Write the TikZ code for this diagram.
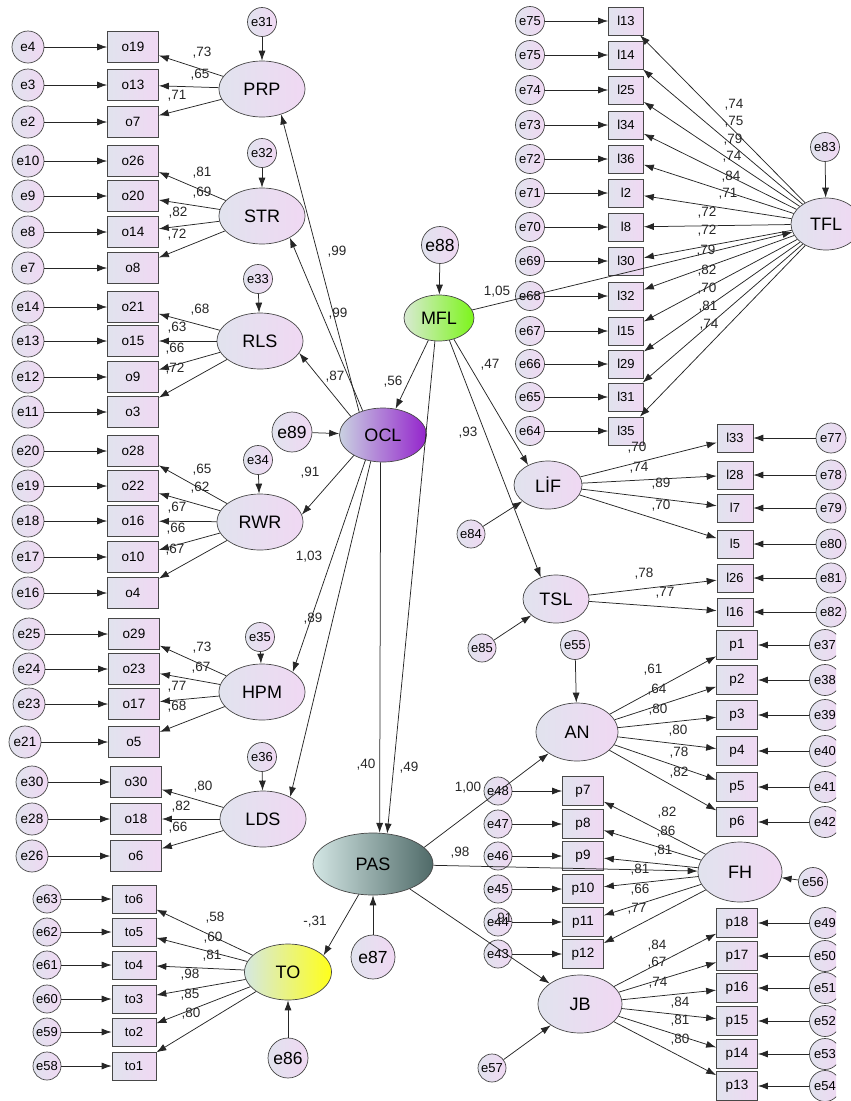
\documentclass[tikz,border=0pt]{standalone}
\usepackage{fontspec}
\setmainfont{Liberation Sans}
\usetikzlibrary{arrows.meta,shapes.geometric}
\definecolor{pl}{HTML}{E1E3EE}
\definecolor{pr}{HTML}{F0D8F3}
\definecolor{ln}{HTML}{262626}
\definecolor{oclL}{HTML}{C9D1E1}
\definecolor{oclR}{HTML}{9424CC}
\definecolor{mflL}{HTML}{D8EAD2}
\definecolor{mflR}{HTML}{7CF51A}
\definecolor{pasL}{HTML}{D3E6E4}
\definecolor{pasR}{HTML}{4F6A68}
\definecolor{toL}{HTML}{D5E8E2}
\definecolor{toR}{HTML}{FFFF1A}
\tikzset{
 base/.style={draw=ln!85, line width=0.7pt, left color=pl, right color=pr, inner sep=0pt},
 obs/.style={base, rectangle, minimum width=51pt, minimum height=31pt, font=\fontsize{13.5}{14}\selectfont},
 tobs/.style={base, rectangle, minimum width=44pt, minimum height=28pt, font=\fontsize{13}{14}\selectfont},
 lobs/.style={base, rectangle, minimum width=35pt, minimum height=28pt, font=\fontsize{13}{14}\selectfont},
 pobs/.style={base, rectangle, minimum width=41pt, minimum height=29pt, font=\fontsize{13.5}{14}\selectfont},
 err/.style={base, circle, minimum size=32pt, font=\fontsize{13.5}{14}\selectfont},
 serr/.style={base, circle, minimum size=29pt, font=\fontsize{13}{14}\selectfont},
 berr/.style={base, circle, minimum size=40pt, font=\fontsize{17.5}{18}\selectfont},
 lat/.style={base, ellipse, minimum width=86pt, minimum height=56pt, font=\fontsize{18}{20}\selectfont},
 lbl/.style={inner sep=0pt, font=\fontsize{13.5}{14}\selectfont, text=black!85},
 arr/.style={draw=ln, line width=0.75pt, -{Latex[length=10pt,width=7pt]}},
}
\begin{document}
\begin{tikzpicture}[x=1pt,y=-1pt]
\useasboundingbox (0,0) rectangle (851,1101);

% ---------- latent variables ----------
\node[lat] (PRP) at (262,89) {PRP};
\node[lat] (STR) at (262,216) {STR};
\node[lat] (RLS) at (260,341) {RLS};
\node[lat] (RWR) at (260,522) {RWR};
\node[lat] (HPM) at (262,692) {HPM};
\node[lat] (LDS) at (263,819) {LDS};
\node[lat, left color=oclL, right color=oclR, minimum width=87pt, minimum height=54pt] (OCL) at (383,435) {OCL};
\node[lat, left color=mflL, right color=mflR, minimum width=70pt, minimum height=46pt] (MFL) at (439,318) {MFL};
\node[lat, left color=pasL, right color=pasR, minimum width=120pt, minimum height=62pt] (PAS) at (373,864) {PAS};
\node[lat, left color=toL, right color=toR, minimum width=87pt, minimum height=56pt] (TO) at (288,972) {TO};
\node[lat, minimum width=70pt, minimum height=52pt] (TFL) at (826,224) {TFL};
\node[lat, minimum width=68pt, minimum height=48pt] (LIF) at (548,485) {LİF};
\node[lat, minimum width=66pt, minimum height=48pt] (TSL) at (556,599) {TSL};
\node[lat, minimum width=82pt, minimum height=58pt] (AN) at (577,732) {AN};
\node[lat, minimum width=84pt, minimum height=60pt] (FH) at (740,872) {FH};
\node[lat, minimum width=84pt, minimum height=58pt] (JB) at (580,1004) {JB};

% ---------- disturbance terms ----------
\node[serr] (e31) at (262,22) {e31};
\node[serr] (e32) at (262,153) {e32};
\node[serr] (e33) at (258,279) {e33};
\node[serr] (e34) at (258,460) {e34};
\node[serr] (e35) at (260,637) {e35};
\node[serr] (e36) at (262,757) {e36};
\node[berr] (e89) at (292,432) {e89};
\node[berr, minimum size=37pt] (e88) at (440,245) {e88};
\node[berr, minimum size=44pt] (e87) at (373,957) {e87};
\node[berr] (e86) at (288,1058) {e86};
\node[serr] (e83) at (825,147) {e83};
\node[serr, minimum size=28pt] (e84) at (471,534) {e84};
\node[serr, minimum size=28pt] (e85) at (482,648) {e85};
\node[serr] (e55) at (575,645) {e55};
\node[serr] (e56) at (813,882) {e56};
\node[serr, minimum size=28pt] (e57) at (492,1068) {e57};

\draw[arr] (e31) -- (PRP);
\draw[arr] (e32) -- (STR);
\draw[arr] (e33) -- (RLS);
\draw[arr] (e34) -- (RWR);
\draw[arr] (e35) -- (HPM);
\draw[arr] (e36) -- (LDS);
\draw[arr] (e89) -- (OCL);
\draw[arr] (e88) -- (MFL);
\draw[arr] (e87) -- (PAS);
\draw[arr] (e86) -- (TO);
\draw[arr] (e83) -- (TFL);
\draw[arr] (e84) -- (LIF);
\draw[arr] (e85) -- (TSL);
\draw[arr] (e55) -- (AN);
\draw[arr] (e56) -- (FH);
\draw[arr] (e57) -- (JB);

% ---------- left indicators ----------
\foreach \b/\e/\y in {o19/e4/47,o13/e3/85,o7/e2/122}{
 \node[obs] (\b) at (133,\y) {\b}; \node[err] (E\b) at (28,\y) {\e};
 \draw[arr] (E\b) -- (\b); \draw[arr] (PRP) -- (\b);}
\foreach \b/\e/\y in {o26/e10/161,o20/e9/196,o14/e8/232,o8/e7/268}{
 \node[obs] (\b) at (133,\y) {\b}; \node[err] (E\b) at (28,\y) {\e};
 \draw[arr] (E\b) -- (\b); \draw[arr] (STR) -- (\b);}
\foreach \b/\e/\y in {o21/e14/307,o15/e13/341,o9/e12/377,o3/e11/412}{
 \node[obs] (\b) at (133,\y) {\b}; \node[err] (E\b) at (28,\y) {\e};
 \draw[arr] (E\b) -- (\b); \draw[arr] (RLS) -- (\b);}
\foreach \b/\e/\y in {o28/e20/451,o22/e19/486,o16/e18/521,o10/e17/557,o4/e16/593}{
 \node[obs] (\b) at (133,\y) {\b}; \node[err] (E\b) at (28,\y) {\e};
 \draw[arr] (E\b) -- (\b); \draw[arr] (RWR) -- (\b);}
\foreach \b/\e/\y/\ex in {o29/e25/634/29,o23/e24/669/29,o17/e23/704/29,o5/e21/742/25}{
 \node[obs] (\b) at (134,\y) {\b}; \node[err] (E\b) at (\ex,\y) {\e};
 \draw[arr] (E\b) -- (\b); \draw[arr] (HPM) -- (\b);}
\foreach \b/\e/\y in {o30/e30/782,o18/e28/819,o6/e26/856}{
 \node[obs] (\b) at (136,\y) {\b}; \node[err] (E\b) at (32,\y) {\e};
 \draw[arr] (E\b) -- (\b); \draw[arr] (LDS) -- (\b);}
\foreach \b/\e/\y in {to6/e63/899,to5/e62/932,to4/e61/965,to3/e60/999,to2/e59/1032,to1/e58/1066}{
 \node[tobs] (\b) at (134,\y) {\b}; \node[serr, minimum size=28pt] (E\b) at (47,\y) {\e};
 \draw[arr] (E\b) -- (\b); \draw[arr] (TO) -- (\b);}

% ---------- TFL indicators ----------
\foreach \b/\e/\y in {l13/e75/21,l14/e75/55,l25/e74/90,l34/e73/125,l36/e72/159,l2/e71/193,l8/e70/227,l30/e69/261,l32/e68/296,l15/e67/331,l29/e66/364,l31/e65/397,l35/e64/431}{
 \node[lobs] (\b) at (626,\y) {\b}; \node[serr, minimum size=29pt] (E\b) at (530,\y) {\e};
 \draw[arr] (E\b) -- (\b); \draw[arr] (TFL) -- (\b);}

% ---------- LIF / TSL indicators ----------
\foreach \b/\e/\y/\L in {l33/e77/438/LIF,l28/e78/475/LIF,l7/e79/508/LIF,l5/e80/544/LIF,l26/e81/578/TSL,l16/e82/612/TSL}{
 \node[lobs, minimum width=36pt] (\b) at (735,\y) {\b}; \node[serr, minimum size=30pt] (E\b) at (831,\y) {\e};
 \draw[arr] (E\b) -- (\b); \draw[arr] (\L) -- (\b);}

% ---------- AN / JB indicators (errors cut at right) ----------
\begin{scope}
\clip (0,0) rectangle (836,1101);
\foreach \b/\e/\y/\L in {p1/e37/645/AN,p2/e38/680/AN,p3/e39/715/AN,p4/e40/751/AN,p5/e41/787/AN,p6/e42/822/AN,p18/e49/923/JB,p17/e50/956/JB,p16/e51/988/JB,p15/e52/1021/JB,p14/e53/1054/JB,p13/e54/1086/JB}{
 \node[pobs] (\b) at (737,\y) {\b}; \node[serr, minimum size=31pt] (E\b) at (825,\y) {\e};
 \draw[arr] (E\b) -- (\b); \draw[arr] (\L) -- (\b);}
\end{scope}

% ---------- FH indicators ----------
\foreach \b/\e/\y in {p7/e48/791,p8/e47/824,p9/e46/856,p10/e45/889,p11/e44/922,p12/e43/954}{
 \node[pobs] (\b) at (583,\y) {\b}; \node[serr, minimum size=28pt] (E\b) at (498,\y) {\e};
 \draw[arr] (E\b) -- (\b); \draw[arr] (FH) -- (\b);}

% ---------- structural paths ----------
\draw[arr] (OCL.136) -- (PRP.307);
\draw[arr] (OCL.130) -- (STR.322);
\draw[arr] (OCL.150) -- (RLS.-17);
\draw[arr] (OCL.215) -- (RWR.10);
\draw[arr] (OCL.235) -- (HPM.33);
\draw[arr] (OCL.245) -- (LDS.39);
\draw[arr] (OCL.265) -- (PAS.78);
\draw[arr] (MFL) -- (OCL);
\draw[arr] (MFL.260) -- (PAS.65);
\draw[arr] (MFL.305) -- (LIF.135);
\draw[arr] (MFL.295) -- (TSL.125);
\draw[arr] (MFL) -- (TFL);
\draw[arr] (PAS.18) -- (AN);
\draw[arr] (PAS) -- (FH);
\draw[arr] (PAS) -- (JB);
\draw[arr] (PAS.245) -- (TO.25);

% ---------- loading labels ----------
\foreach \t/\x/\y [count=\i] in {73/202/53,65/200/75,71/177/96}{\node[lbl] (lPRP\i) at (\x,\y) {,\t};}
\foreach \t/\x/\y [count=\i] in {81/202/173,69/202/193,82/178/213,72/177/235}{\node[lbl] (lSTR\i) at (\x,\y) {,\t};}
\foreach \t/\x/\y [count=\i] in {68/200/310,63/177/328,66/175/349,72/175/369}{\node[lbl] (lRLS\i) at (\x,\y) {,\t};}
\foreach \t/\x/\y [count=\i] in {65/202/470,62/200/488,67/177/508,66/176/529,67/175/550}{\node[lbl] (lRWR\i) at (\x,\y) {,\t};}
\foreach \t/\x/\y [count=\i] in {73/202/648,67/201/668,77/177/687,68/177/707}{\node[lbl] (lHPM\i) at (\x,\y) {,\t};}
\foreach \t/\x/\y [count=\i] in {80/203/787,82/181/807,66/178/828}{\node[lbl] (lLDS\i) at (\x,\y) {,\t};}
\foreach \t/\x/\y [count=\i] in {58/215/918,60/213/938,81/212/956,98/190/975,85/190/995,80/191/1014}{\node[lbl] (lTO\i) at (\x,\y) {,\t};}
\foreach \t/\x/\y [count=\i] in {74/734/105,75/734/122,79/733/140,74/732/157,84/731/177,71/728/194,72/707/213,72/707/231,79/706/251,82/707/271,70/707/289,81/708/307,74/709/325}{\node[lbl] (lTFL\i) at (\x,\y) {,\t};}
\foreach \t/\x/\y [count=\i] in {70/637/448,74/639/468,89/661/484,70/661/506}{\node[lbl] (lLIF\i) at (\x,\y) {,\t};}
\foreach \t/\x/\y [count=\i] in {78/644/574,77/665/593}{\node[lbl] (lTSL\i) at (\x,\y) {,\t};}
\foreach \t/\x/\y [count=\i] in {61/653/670,64/657/690,80/658/710,80/678/731,78/679/753,82/679/773}{\node[lbl] (lAN\i) at (\x,\y) {,\t};}
\foreach \t/\x/\y [count=\i] in {82/667/813,86/666/832,81/663/851,81/640/870,66/640/890,77/637/909}{\node[lbl] (lFH\i) at (\x,\y) {,\t};}
\foreach \t/\x/\y [count=\i] in {84/657/946,67/657/963,74/658/983,84/680/1003,81/680/1021,80/680/1040}{\node[lbl] (lJB\i) at (\x,\y) {,\t};}

% structural labels
\node[lbl] (s1) at (337,252) {,99};
\node[lbl] (s2) at (338,314) {,99};
\node[lbl] (s3) at (335,377) {,87};
\node[lbl] (s4) at (393,382) {,56};
\node[lbl] (s5) at (497,292) {1,05};
\node[lbl] (s6) at (490,365) {,47};
\node[lbl] (s7) at (468,433) {,93};
\node[lbl] (s8) at (310,473) {,91};
\node[lbl] (s9) at (309,557) {1,03};
\node[lbl] (s10) at (313,619) {,89};
\node[lbl] (s11) at (366,765) {,40};
\node[lbl] (s12) at (409,768) {,49};
\node[lbl] (s13) at (468,788) {1,00};
\node[lbl] (s14) at (460,853) {,98};
\node[lbl] (s15) at (503,919) {,91};
\node[lbl] (s16) at (315,922) {-,31};
\end{tikzpicture}
\end{document}
